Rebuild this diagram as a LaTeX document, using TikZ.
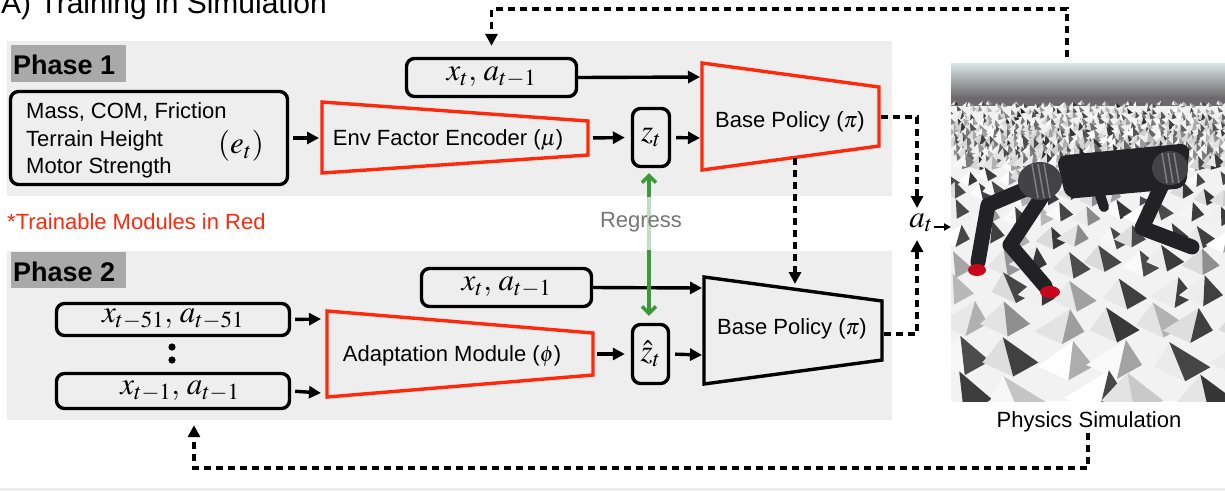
\documentclass[tikz,border=0pt]{standalone}
\usepackage{mathptmx}
\usepackage[no-math]{fontspec}
\setmainfont{Liberation Sans}
\usetikzlibrary{arrows.meta,calc}
\definecolor{panel}{HTML}{EEEEEE}
\definecolor{phasebox}{HTML}{A9A9A9}
\definecolor{trainred}{RGB}{255,40,10}
\definecolor{regreen}{HTML}{3A9A3A}
\definecolor{regreenlight}{HTML}{BEDFBE}
\definecolor{regray}{HTML}{767676}
\definecolor{skytop}{HTML}{D9E6E6}
\definecolor{skybot}{HTML}{6C686C}
\definecolor{robot}{HTML}{222225}
\definecolor{footred}{HTML}{C8081A}
\definecolor{terrainbg}{HTML}{F2F2F2}
\definecolor{facedark}{HTML}{4A4A52}
\begin{document}
\begin{tikzpicture}[x=1pt,y=-1pt,
  lbl/.style={font=\fontsize{22}{26}\selectfont, inner sep=0pt},
  mth/.style={font=\fontsize{31}{33}\selectfont},
  rbox/.style={draw, line width=3.4pt, rounded corners=8pt, inner sep=0pt},
  arr/.style={line width=3.4pt, -{Triangle[length=12pt,width=12pt]}},
  darr/.style={line width=3.4pt, dash pattern=on 7pt off 5pt, -{Triangle[length=12pt,width=12pt]}},
  trap/.style={line width=3.4pt, line join=miter},
  phlbl/.style={anchor=base west, inner sep=0pt, font=\bfseries\fontsize{27}{30}\selectfont},
  leg/.style={robot, line width=15pt, line cap=round, line join=round},
]
\useasboundingbox (0,0) rectangle (1225,491);
\fill[white] (0,0) rectangle (1225,491);
\fill[panel] (0,488) rectangle (1225,491);
\begin{scope}
\clip (0,0) rectangle (1225,491);
\node[anchor=base west, inner sep=0pt, font=\fontsize{30}{32}\selectfont] (title) at (1,13) {A) Training in Simulation};
\end{scope}

% panels
\fill[panel] (7,41) rectangle (892,196);
\fill[panel] (7,251) rectangle (892,420);
\fill[phasebox] (11,45) rectangle (126,82);
\node[phlbl] (ph1) at (13,74) {Phase 1};
\fill[phasebox] (11,252) rectangle (126,288);
\node[phlbl] (ph2) at (13,281) {Phase 2};

% ---------- Phase 1 ----------
\node[rbox, minimum width=277pt, minimum height=93pt] (env) at (149,138) {};
\node[lbl, anchor=base west] (envl1) at (26,118) {Mass, COM, Friction};
\node[lbl, anchor=base west] (envl2) at (26,146) {Terrain Height};
\node[lbl, anchor=base west] (envl3) at (26,173) {Motor Strength};
\node[mth, inner sep=0pt] (et) at (241,146) {$(e_t)$};

\coordinate (encTL) at (322,102);
\coordinate (encBL) at (322,173);
\coordinate (encTR) at (588,121);
\coordinate (encBR) at (588,155);
\draw[trap, trainred] (encTL) -- (encTR) -- (encBR) -- (encBL) -- cycle;
\node[lbl] (enc) at (448,140) {Env Factor Encoder ($\mu$)};
\coordinate (encL) at (319,138);
\coordinate (encR) at (588,138);

\node[rbox, mth, minimum width=37pt, minimum height=58pt] (z) at (651,137.5) {$z_t$};

\coordinate (bp1TL) at (702,63);
\coordinate (bp1BL) at (702,170);
\coordinate (bp1TR) at (879,87);
\coordinate (bp1BR) at (879,146);
\draw[trap, trainred] (bp1TL) -- (bp1TR) -- (bp1BR) -- (bp1BL) -- cycle;
\node[lbl] (bp1) at (790,122) {Base Policy ($\pi$)};
\coordinate (bp1in1) at (700,77);
\coordinate (bp1in2) at (700,138);
\coordinate (bp1R) at (881,117);
\coordinate (bp1B) at (795,158);

\node[rbox, mth, minimum width=170pt, minimum height=38pt] (xa1) at (491.5,77.5) {$x_t,\, a_{t-1}$};

\draw[arr, shorten <=4pt] (env.east) -- (encL);
\draw[arr, shorten <=5pt, shorten >=6pt] (encR) -- (z.west);
\draw[arr, shorten <=5pt] (z.east) -- (bp1in2);
\draw[arr] (xa1.east) -- (bp1in1);

\node[lbl, text=trainred, anchor=west] (train) at (7,222) {*Trainable Modules in Red};

% ---------- Phase 2 ----------
\node[rbox, mth, minimum width=233pt, minimum height=32pt] (x51) at (173,319.5) {$x_{t-51},\, a_{t-51}$};
\node[rbox, minimum width=233pt, minimum height=35pt] (xm1) at (173,391) {};
\node[mth, inner sep=0pt] (xm1t) at (180,391) {$x_{t-1},\, a_{t-1}$};
\fill (172,347) circle [radius=3.6pt];
\fill (172,360) circle [radius=3.6pt];

\coordinate (adTL) at (327,311);
\coordinate (adBL) at (327,397);
\coordinate (adTR) at (593,333);
\coordinate (adBR) at (593,375);
\draw[trap, trainred] (adTL) -- (adTR) -- (adBR) -- (adBL) -- cycle;
\node[lbl] (ad) at (452,356) {Adaptation Module ($\phi$)};
\coordinate (adin1) at (321,319);
\coordinate (adin2) at (321,393);
\coordinate (adR) at (593,354);

\node[rbox, mth, minimum width=36pt, minimum height=59pt] (zh) at (650.5,354) {$\hat z_t$};
\node[rbox, mth, minimum width=170pt, minimum height=38pt] (xa2) at (506.5,287.5) {$x_t,\, a_{t-1}$};

\coordinate (bp2TL) at (704,277);
\coordinate (bp2BL) at (704,384);
\coordinate (bp2TR) at (882,301);
\coordinate (bp2BR) at (882,360);
\draw[trap] (bp2TL) -- (bp2TR) -- (bp2BR) -- (bp2BL) -- cycle;
\node[lbl] (bp2) at (792,329) {Base Policy ($\pi$)};
\coordinate (bp2in1) at (702,288);
\coordinate (bp2in2) at (702,355);
\coordinate (bp2R) at (884,334);
\coordinate (bp2T) at (795,289);

\draw[arr, shorten <=4pt] (x51.east) -- (adin1);
\draw[arr, shorten <=4pt] (xm1.east) -- (adin2);
\draw[arr, shorten <=4pt, shorten >=6pt] (adR) -- (zh.west);
\draw[arr, shorten <=5pt] (zh.east) -- (bp2in2);
\draw[arr] (xa2.east) -- (bp2in1);

% ---------- Regress ----------
\draw[line width=3.5pt, regreen, {Straight Barb[length=7pt,width=14pt]}-{Straight Barb[length=7pt,width=14pt]}, shorten <=5pt, shorten >=7pt] ($(z.south)+(-2,0)$) -- ($(zh.north)+(-1.5,0)$);
\draw[line width=3.5pt, regreenlight] ($(z.south)+(-2,29)$) -- ($(z.south)+(-2,82)$);
\node[lbl, text=regray] (reg) at (641,222) {Regress};

% ---------- Simulation image ----------
\node[minimum width=274pt, minimum height=338pt, inner sep=0pt] (sim) at (1088,232) {};
\begin{scope}
\clip (951,63) rectangle (1225,401);
\fill[terrainbg] (951,63) rectangle (1225,401);
\shade[top color=skytop, bottom color=skybot] (951,63) rectangle (1225,98);
\fill[skybot] (951,97) rectangle (1225,106);
\pgfmathsetseed{42}
\foreach \r in {0,...,10}{
  \foreach \c in {0,...,35}{
    \pgfmathsetmacro{\s}{7+\r*1.3}
    \pgfmathsetmacro{\yy}{106+\r*6+rand*2}
    \pgfmathsetmacro{\xx}{944+\c*8+rand*4}
    \pgfmathsetmacro{\ga}{int(rnd*20)}
    \pgfmathsetmacro{\gb}{int(\ga+20+rnd*50)}
    \pgfmathsetmacro{\jj}{rand*2}
    \fill[black!\ga] (\xx,\yy) -- ({\xx+0.5*\s+\jj},{\yy-0.55*\s}) -- ({\xx+0.5*\s},{\yy+0.15*\s}) -- cycle;
    \fill[black!\gb] ({\xx+0.5*\s},{\yy+0.15*\s}) -- ({\xx+0.5*\s+\jj},{\yy-0.55*\s}) -- ({\xx+\s},\yy) -- cycle;
  }
}
\foreach \yy/\s in {178/20, 196/24, 216/28, 240/32, 266/38, 296/44, 328/50, 364/56, 402/62}{
  \foreach \c in {0,...,16}{
    \pgfmathsetmacro{\xx}{940+\c*\s*0.95+rand*\s*0.3}
    \pgfmathsetmacro{\ga}{int(rnd*15)}
    \pgfmathsetmacro{\gb}{int(rnd<0.5 ? 70+rnd*10 : 20+rnd*30)}
    \pgfmathsetmacro{\jj}{rand*\s*0.25}
    \pgfmathsetmacro{\yv}{\yy+rand*5}
    \fill[black!\ga] (\xx,\yv) -- ({\xx+0.5*\s+\jj},{\yv-0.45*\s}) -- ({\xx+0.55*\s},{\yv+0.25*\s}) -- cycle;
    \fill[black!\gb] ({\xx+0.55*\s},{\yv+0.25*\s}) -- ({\xx+0.5*\s+\jj},{\yv-0.45*\s}) -- ({\xx+\s},\yv) -- cycle;
  }
}
% robot
\draw[leg] (1040,183) -- (988,205) -- (978,262);
\draw[leg] (1045,192) -- (1010,245) -- (1045,286);
\draw[leg] (1168,172) -- (1142,228) -- (1192,247);
\draw[robot, line width=10pt, line cap=round] (1100,195) -- (1104,207);
\fill[robot, rounded corners=10pt] (1056,156) -- (1190,143) -- (1186,188) -- (1066,199) -- cycle;
\fill[robot!85!white] (1040,181) ellipse [x radius=22pt, y radius=19pt];
\fill[robot!85!white] (1170,168) ellipse [x radius=18pt, y radius=17pt];
\foreach \d in {-8,-2,4}{
  \draw[gray, line width=1.5pt] ($(1040,181)+(\d,-17)$) -- ($(1040,181)+(\d+6,17)$);
  \draw[gray, line width=1.5pt] ($(1170,168)+(\d,-15)$) -- ($(1170,168)+(\d+5,15)$);
}
\fill[footred] (977,270) ellipse [x radius=9pt, y radius=6pt];
\fill[footred] (1050,292) ellipse [x radius=10pt, y radius=6pt];
\end{scope}
\node[lbl] (simlbl) at (1089,422) {Physics Simulation};

% ---------- a_t and dashed feedback ----------
\node[mth, inner sep=0pt] (at) at (921,223) {$a_t$};
\coordinate (atN) at (917,208);
\coordinate (atS) at (917,240);
\coordinate (simL) at (951,227);
\draw[line width=2pt, -{Triangle[length=7pt,width=7pt]}] (at.east) ++(1,4) -- (simL);
\draw[darr] (bp1R) -| (atN);
\draw[darr] (bp2R) -| (atS);
\draw[darr, shorten >=5pt] (bp1B) -- (bp2T);

\coordinate (simT) at (1067,57);
\coordinate (topC) at (1067,9);
\draw[darr] (simT) -- (topC) -| ($(xa1.north)+(0,-11)$);

\coordinate (simB) at (1088,433);
\coordinate (botC) at (1088,468);
\draw[darr] (simB) -- (botC) -| ($(xm1.south)+(21,15)$);
\end{tikzpicture}
\end{document}
